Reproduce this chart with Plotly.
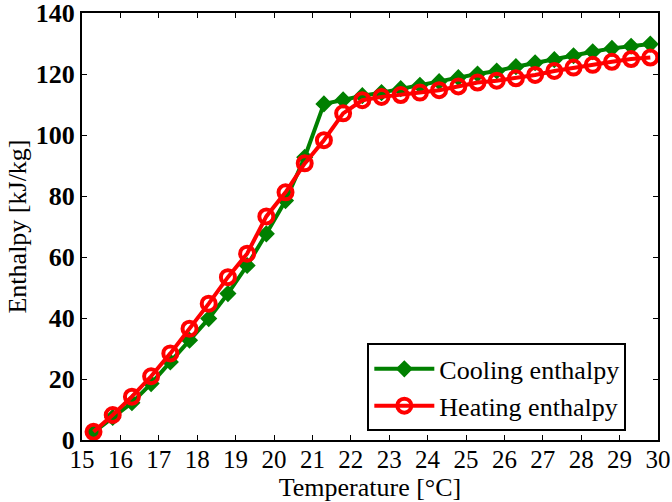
import plotly.graph_objects as go

temperature = [15.3 + 0.5 * i for i in range(30)]
cooling = [2.5, 7.4, 12.2, 18.5, 25.6, 32.7, 39.8, 48.0, 57.2, 67.6,
           78.5, 92.7, 110.2, 111.5, 112.9, 113.9, 115.2, 116.3, 117.5, 118.8,
           120.0, 121.0, 122.4, 123.7, 124.7, 126.0, 127.3, 128.4, 129.1, 129.8]
heating = [2.7, 8.2, 14.2, 20.9, 28.4, 36.5, 44.7, 53.4, 61.1, 73.3,
           81.2, 90.7, 98.3, 107.1, 111.4, 112.5, 113.1, 113.9, 114.7, 115.9,
           117.2, 117.8, 118.6, 119.7, 121.0, 122.1, 123.0, 124.0, 124.9, 125.4]
x_ticks = list(range(15, 31))
y_ticks = list(range(0, 141, 20))

font_family = "Liberation Serif"
fs = 26

fig = go.Figure()
fig.add_trace(go.Scatter(
    x=temperature, y=cooling, mode="lines+markers", name="Cooling enthalpy",
    line=dict(color="rgb(0,128,0)", width=4),
    marker=dict(symbol="diamond", size=11, color="rgb(0,128,0)",
                line=dict(color="rgb(0,128,0)", width=2)),
))
fig.add_trace(go.Scatter(
    x=temperature, y=heating, mode="lines+markers", name="Heating enthalpy",
    line=dict(color="rgb(255,0,0)", width=4),
    marker=dict(symbol="circle-open", size=14, color="rgb(255,0,0)",
                line=dict(color="rgb(255,0,0)", width=4)),
))

axis_common = dict(
    showline=True, linecolor="black", linewidth=2, mirror="ticks",
    ticks="inside", ticklen=5, tickwidth=1, tickcolor="black",
    showgrid=False, zeroline=False, automargin=False,
    ticklabeloverflow="allow",
)

fig.update_layout(
    width=672, height=502,
    margin=dict(l=82, r=14, t=13, b=62),
    paper_bgcolor="white", plot_bgcolor="white",
    font=dict(family=font_family, color="black", size=fs),
    xaxis=dict(range=[15, 30], tickvals=x_ticks, ticktext=[str(t) for t in x_ticks],
               tickfont=dict(family=font_family, size=25), ticklabelstandoff=-4,
               title=dict(text="Temperature [°C]", font=dict(family=font_family, size=fs), standoff=0),
               **axis_common),
    yaxis=dict(range=[0, 140], tickvals=y_ticks, ticktext=[str(t) for t in y_ticks],
               tickfont=dict(family=font_family, size=fs, weight="bold"),
               title=dict(text="Enthalpy [kJ/kg]", font=dict(family=font_family, size=fs), standoff=2),
               **axis_common),
    legend=dict(x=0.945, y=0.02, xanchor="right", yanchor="bottom",
                bgcolor="white", bordercolor="black", borderwidth=2,
                font=dict(family=font_family, size=fs),
                tracegroupgap=0, itemwidth=60),
    showlegend=True,
)

fig.write_html("out.html")
